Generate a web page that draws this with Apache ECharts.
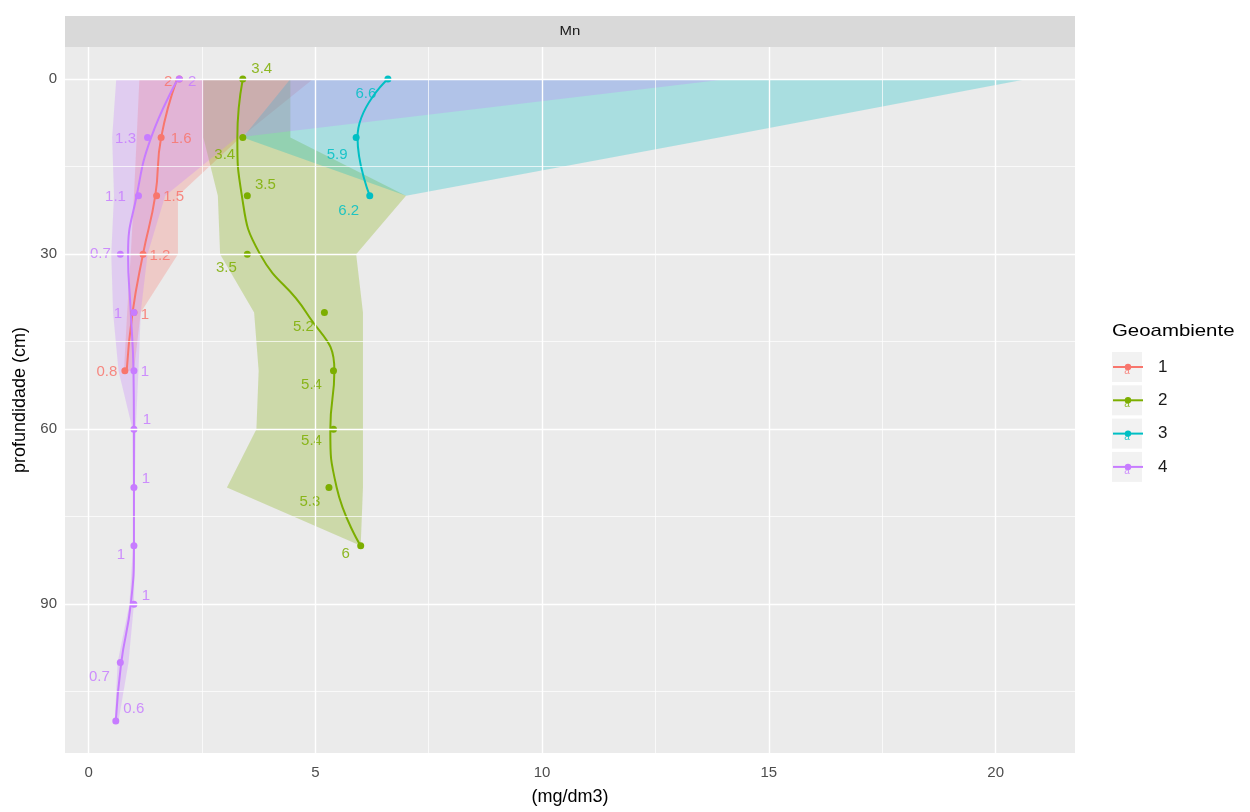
<!DOCTYPE html>
<html>
<head>
<meta charset="utf-8">
<script src="https://cdn.jsdelivr.net/npm/echarts@6/dist/echarts.min.js"></script>
<style>
html,body{margin:0;padding:0;background:#ffffff;}
#chart{width:1250px;height:812px;}
</style>
</head>
<body>
<div id="chart"></div>
<script>
// ---------------- DATA ----------------
const groupNames = ['1', '2', '3', '4'];

// Geoambiente 1
const depth1 = [0, 10, 20, 30, 40, 50];
const mn1    = [2, 1.6, 1.5, 1.2, 1, 0.8];
const fit1   = [1.95, 1.6, 1.47, 1.2, 0.97, 0.84];
const low1   = [1.12, 1.06, 1.0, 0.93, 0.85, 0.78];
const high1  = [4.95, 3.35, 1.97, 1.97, 1.15, 1.0];

// Geoambiente 2
const depth2 = [0, 10, 20, 30, 40, 50, 60, 70, 80];
const mn2    = [3.4, 3.4, 3.5, 3.5, 5.2, 5.4, 5.4, 5.3, 6];
const fit2   = [3.4, 3.28, 3.38, 3.78, 4.8, 5.42, 5.33, 5.47, 6.0];
const low2   = [2.53, 2.53, 2.85, 2.9, 3.65, 3.75, 3.7, 3.05, 6.0];
const high2  = [4.45, 4.45, 7.0, 5.9, 6.05, 6.05, 6.05, 6.05, 6.0];

// Geoambiente 3
const depth3 = [0, 10, 20];
const mn3    = [6.6, 5.9, 6.2];
const fit3   = [6.6, 5.93, 6.2];
const low3   = [4.45, 3.4, 7.0];
const high3  = [20.7, 13.9, 7.0];

// Geoambiente 4
const depth4 = [0, 10, 20, 30, 40, 50, 60, 70, 80, 90, 100, 110];
const mn4    = [2, 1.3, 1.1, 0.7, 1, 1, 1, 1, 1, 1, 0.7, 0.6];
const fit4   = [1.97, 1.38, 1.06, 0.87, 0.93, 0.99, 1.0, 1.0, 1.0, 0.93, 0.72, 0.6];
const low4   = [0.61, 0.52, 0.56, 0.5, 0.54, 0.66, 0.97, 0.98, 0.98, 0.9, 0.64, 0.58];
const high4  = [14.1, 3.27, 1.69, 1.3, 1.15, 1.1, 1.04, 1.02, 1.02, 1.0, 0.88, 0.66];

// Axis ticks
const xTicks = [0, 5, 10, 15, 20];
const xMinor = [2.5, 7.5, 12.5, 17.5];
const yTicks = [0, 30, 60, 90];
const yMinor = [15, 45, 75, 105];

// ---------------- LAYOUT (label nudges in px, not data) ----------------
const labelOffset1 = [[-11,3],[20,1],[17,1],[17,2],[11,2],[-18,1]];
const labelOffset2 = [[19,-10],[-18,17],[18,-11],[-21,14],[-21,14],[-22,14],[-22,12],[-19,14],[-15,8]];
const labelOffset3 = [[-22,15],[-19,17],[-21,15]];
const labelOffset4 = [[13,3],[-22,1],[-23,1],[-20,0],[-16,1],[11,1],[13,-9],[12,-9],[-13,9],[12,-8],[-21,14],[18,-12]];

const colors = ['#F8766D', '#7CAE00', '#00BFC4', '#C77CFF'];
const FONT = "'Liberation Sans', Arial, sans-serif";

const groups = [
  {depth: depth1, mn: mn1, fit: fit1, low: low1, high: high1, off: labelOffset1},
  {depth: depth2, mn: mn2, fit: fit2, low: low2, high: high2, off: labelOffset2},
  {depth: depth3, mn: mn3, fit: fit3, low: low3, high: high3, off: labelOffset3},
  {depth: depth4, mn: mn4, fit: fit4, low: low4, high: high4, off: labelOffset4}
];

function rgba(hex, a) {
  const n = parseInt(hex.slice(1), 16);
  return 'rgba(' + ((n >> 16) & 255) + ',' + ((n >> 8) & 255) + ',' + (n & 255) + ',' + a + ')';
}

const GRID = {left: 65, top: 47, width: 1010, height: 706};

const series = [];

// grid lines (under everything)
const gridLines = [];
xTicks.forEach(v => gridLines.push({xAxis: v, lineStyle: {color: '#FFFFFF', width: 1.4, type: 'solid'}}));
xMinor.forEach(v => gridLines.push({xAxis: v, lineStyle: {color: '#FFFFFF', width: 0.7, type: 'solid'}}));
yTicks.forEach(v => gridLines.push({yAxis: v, lineStyle: {color: '#FFFFFF', width: 1.4, type: 'solid'}}));
yMinor.forEach(v => gridLines.push({yAxis: v, lineStyle: {color: '#FFFFFF', width: 0.7, type: 'solid'}}));
series.push({
  type: 'scatter', name: 'gridlines', data: [], z: 0, silent: true,
  markLine: {silent: true, symbol: 'none', animation: false, label: {show: false},
    emphasis: {disabled: true}, data: gridLines}
});

// ribbons
groups.forEach((g, gi) => {
  series.push({
    type: 'custom', name: 'ribbon' + groupNames[gi], z: 1, silent: true,
    data: g.depth.map((d, i) => [g.low[i], g.high[i], d]),
    encode: {x: [0, 1], y: 2},
    renderItem: function (params, api) {
      if (params.dataIndex !== 0) return null;
      const pts = [];
      for (let i = 0; i < g.depth.length; i++) pts.push(api.coord([g.high[i], g.depth[i]]));
      for (let i = g.depth.length - 1; i >= 0; i--) pts.push(api.coord([g.low[i], g.depth[i]]));
      return {type: 'polygon', shape: {points: pts}, style: {fill: rgba(colors[gi], 0.28), stroke: null}};
    }
  });
});

// smoothed lines (legend entries)
groups.forEach((g, gi) => {
  series.push({
    type: 'line', name: groupNames[gi], z: 2, smooth: 0.5,
    symbol: 'circle', showSymbol: false, silent: true,
    color: colors[gi],
    lineStyle: {width: 2, color: colors[gi]},
    itemStyle: {color: colors[gi]},
    data: g.depth.map((d, i) => [g.fit[i], d])
  });
});

// points with value labels
groups.forEach((g, gi) => {
  series.push({
    type: 'scatter', name: 'points' + groupNames[gi], z: 3, silent: true,
    symbol: 'circle', symbolSize: 7,
    itemStyle: {color: colors[gi], opacity: 1},
    label: {
      show: true, position: 'inside', color: rgba(colors[gi], 0.85),
      fontSize: 15, fontFamily: FONT,
      formatter: p => String(p.value[0])
    },
    labelLayout: function (params) {
      const o = g.off[params.dataIndex] || [0, 0];
      return {dx: o[0], dy: o[1], hideOverlap: false};
    },
    data: g.depth.map((d, i) => [g.mn[i], d])
  });
});

// strip, legend key boxes & title (graphic)
const legendLeft = 1112, legendTop = 352, keyStep = 33.3, keySize = 30;
const graphics = [
  {type: 'rect', left: GRID.left, top: 16, z: 0,
   shape: {width: GRID.width, height: 31}, style: {fill: '#D9D9D9'}},
  {type: 'text', x: GRID.left + GRID.width / 2, y: 31.5, z: 1, scaleX: 1.15,
   style: {text: 'Mn', fill: '#1A1A1A', font: '13px ' + FONT, textAlign: 'center', textVerticalAlign: 'middle'}},
  {type: 'text', x: legendLeft, y: 331, z: 1, scaleX: 1.2,
   style: {text: 'Geoambiente', fill: '#000000', font: '17px ' + FONT, textAlign: 'left', textVerticalAlign: 'middle'}}
];
groupNames.forEach((n, i) => {
  const cy = legendTop + 15 + i * keyStep;
  graphics.push({type: 'rect', x: legendLeft, y: cy - keySize / 2, z: 0,
    shape: {width: keySize, height: keySize}, style: {fill: '#F2F2F2'}});
  graphics.push({type: 'text', x: legendLeft + keySize / 2, y: cy + 4, z: 100,
    style: {text: 'a', fill: rgba(colors[i], 0.85), font: '10px ' + FONT, textAlign: 'center', textVerticalAlign: 'middle'}});
});

const option = {
  animation: false,
  backgroundColor: '#FFFFFF',
  textStyle: {fontFamily: FONT},
  grid: {left: GRID.left, top: GRID.top, width: GRID.width, height: GRID.height,
    show: true, backgroundColor: '#EBEBEB', borderWidth: 0, containLabel: false},
  xAxis: {
    type: 'value', min: -0.52, max: 21.75,
    name: '(mg/dm3)', nameLocation: 'middle', nameGap: 35,
    nameTextStyle: {color: '#000000', fontSize: 18, fontFamily: FONT},
    axisLine: {show: false},
    axisTick: {show: true, customValues: xTicks, length: 4, lineStyle: {color: '#333333', width: 1}},
    axisLabel: {customValues: xTicks, color: '#4D4D4D', fontSize: 15, margin: 12, fontFamily: FONT},
    splitLine: {show: false}, minorSplitLine: {show: false}
  },
  yAxis: {
    type: 'value', inverse: true, min: -5.5, max: 115.5,
    name: 'profundidade (cm)', nameLocation: 'middle', nameGap: 36, nameRotate: 90,
    nameTextStyle: {color: '#000000', fontSize: 18, fontFamily: FONT},
    axisLine: {show: false},
    axisTick: {show: true, customValues: yTicks, length: 4, lineStyle: {color: '#333333', width: 1}},
    axisLabel: {customValues: yTicks, color: '#4D4D4D', fontSize: 15, margin: 8, fontFamily: FONT},
    splitLine: {show: false}, minorSplitLine: {show: false}
  },
  legend: {
    orient: 'vertical', left: legendLeft, top: legendTop, padding: 0,
    itemWidth: keySize, itemHeight: 8, itemGap: keyStep - 30,
    selectedMode: false, data: groupNames,
    textStyle: {fontSize: 17, color: '#1A1A1A', lineHeight: 30, padding: [0, 0, 0, 10], fontFamily: FONT}
  },
  graphic: graphics,
  series: series
};

const chart = echarts.init(document.getElementById('chart'), null, {renderer: 'canvas'});
chart.setOption(option);
</script>
</body>
</html>
